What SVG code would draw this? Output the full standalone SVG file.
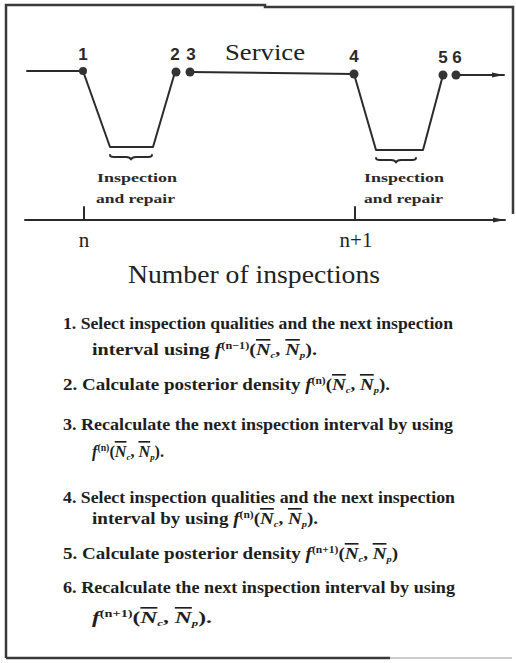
<svg xmlns="http://www.w3.org/2000/svg" width="516" height="663" viewBox="0 0 516 663">
<style>
.ln{fill:none;stroke:#2b2b2b;stroke-width:2;stroke-linecap:round;stroke-linejoin:round}
.fr{fill:none;stroke:#3a3a3a;stroke-width:2.5}
.pt{fill:#333}
.num{font-family:"Liberation Sans",Arial,sans-serif;font-size:17px;font-weight:bold;fill:#2a2a2a;text-anchor:middle}
.big{font-family:"Liberation Serif","Times New Roman",serif;fill:#222}
.ir{font-family:"Liberation Serif","Times New Roman",serif;font-size:13px;font-weight:bold;fill:#2a2a2a}
.li{font-family:"Liberation Serif","Times New Roman",serif;font-size:16.5px;font-weight:bold;fill:#1e1e1e}
.m{font-style:italic}
.ov{text-decoration:overline}
.sup{font-size:10px}
.sub{font-size:9px;font-style:italic}
</style>
<defs>
<marker id="arr" viewBox="0 0 12 6" refX="12" refY="3" markerWidth="12" markerHeight="6" markerUnits="userSpaceOnUse" orient="auto">
<path d="M0,0.5 L12,3 L0,5.5 Z" fill="#2b2b2b"/>
</marker>
</defs>
<rect width="516" height="663" fill="#ffffff"/>
<g id="frame">
<path class="fr" d="M6,658 V5 H265 V7 H513 V214"/>
<path class="fr" d="M6,658 H390"/>
<path d="M390,658 H512" stroke="#9a9a9a" stroke-width="1.2" fill="none"/>
</g>
<g id="connectors">
<path class="ln" d="M27,71 H83"/>
<path class="ln" d="M83,71 L110,147 H153 L175,72"/>
<path class="ln" d="M190,72 L354,74"/>
<path class="ln" d="M354,74 L376,150 H423 L443,75"/>
<path class="ln" d="M456,75 L504,75" marker-end="url(#arr)"/>
<path class="ln" d="M110,155 q0,2 4,2 h12 q4,0 5,2.5 q1,-2.5 5,-2.5 h12 q4,0 4,-2" stroke-width="1.6"/>
<path class="ln" d="M376,158 q0,2 4,2 h11 q4,0 5,2.5 q1,-2.5 5,-2.5 h11 q4,0 4,-2" stroke-width="1.6"/>
</g>
<g id="p1"><circle class="pt" cx="83" cy="71" r="4"/><text class="num" x="83" y="60">1</text></g>
<g id="p2"><circle class="pt" cx="176" cy="72" r="4.5"/><text class="num" x="175" y="60">2</text></g>
<g id="p3"><circle class="pt" cx="190" cy="72" r="4.5"/><text class="num" x="191" y="60">3</text></g>
<g id="p4"><circle class="pt" cx="354" cy="74" r="4.5"/><text class="num" x="354" y="62">4</text></g>
<g id="p5"><circle class="pt" cx="443" cy="75" r="4.5"/><text class="num" x="443" y="63">5</text></g>
<g id="p6"><circle class="pt" cx="456" cy="75" r="4.5"/><text class="num" x="457" y="63">6</text></g>
<g id="service-label"><text class="big" x="225" y="60" font-size="24" textLength="80" lengthAdjust="spacingAndGlyphs">Service</text></g>
<g id="repair1">
<text class="ir" x="97" y="182" textLength="80" lengthAdjust="spacingAndGlyphs">Inspection</text>
<text class="ir" x="96" y="203" textLength="79" lengthAdjust="spacingAndGlyphs">and repair</text>
</g>
<g id="repair2">
<text class="ir" x="364" y="182" textLength="80" lengthAdjust="spacingAndGlyphs">Inspection</text>
<text class="ir" x="364" y="203" textLength="79" lengthAdjust="spacingAndGlyphs">and repair</text>
</g>
<g id="axis">
<path class="ln" d="M25,220 H505" marker-end="url(#arr)"/>
<path class="ln" d="M84,207 V220"/>
<path class="ln" d="M355,207 V220"/>
<text class="big" x="84" y="247" font-size="21" text-anchor="middle">n</text>
<text class="big" x="356" y="247" font-size="21" text-anchor="middle">n+1</text>
<text class="big" x="128" y="283" font-size="26" textLength="252" lengthAdjust="spacingAndGlyphs">Number of inspections</text>
</g>
<g id="step1">
<text class="li" x="63" y="329" textLength="390" lengthAdjust="spacingAndGlyphs">1. Select inspection qualities and the next inspection</text>
<text class="li" x="92" y="355" textLength="225" lengthAdjust="spacingAndGlyphs">interval using <tspan class="m">f</tspan><tspan class="sup" dy="-6">(n−1)</tspan><tspan dy="6">(</tspan><tspan class="m ov">N</tspan><tspan class="sub" dy="3">c</tspan><tspan dy="-3">, </tspan><tspan class="m ov">N</tspan><tspan class="sub" dy="3">p</tspan><tspan dy="-3">).</tspan></text>
</g>
<g id="step2">
<text class="li" x="63" y="390" textLength="327" lengthAdjust="spacingAndGlyphs">2. Calculate posterior density <tspan class="m">f</tspan><tspan class="sup" dy="-6">(n)</tspan><tspan dy="6">(</tspan><tspan class="m ov">N</tspan><tspan class="sub" dy="3">c</tspan><tspan dy="-3">, </tspan><tspan class="m ov">N</tspan><tspan class="sub" dy="3">p</tspan><tspan dy="-3">).</tspan></text>
</g>
<g id="step3">
<text class="li" x="63" y="430" textLength="390" lengthAdjust="spacingAndGlyphs">3. Recalculate the next inspection interval by using</text>
<text class="li" x="92" y="457" textLength="72" lengthAdjust="spacingAndGlyphs"><tspan class="m">f</tspan><tspan class="sup" dy="-6">(n)</tspan><tspan dy="6">(</tspan><tspan class="m ov">N</tspan><tspan class="sub" dy="3">c</tspan><tspan dy="-3">, </tspan><tspan class="m ov">N</tspan><tspan class="sub" dy="3">p</tspan><tspan dy="-3">).</tspan></text>
</g>
<g id="step4">
<text class="li" x="63" y="503" textLength="392" lengthAdjust="spacingAndGlyphs">4. Select inspection qualities and the next inspection</text>
<text class="li" x="92" y="524" textLength="226" lengthAdjust="spacingAndGlyphs">interval by using <tspan class="m">f</tspan><tspan class="sup" dy="-6">(n)</tspan><tspan dy="6">(</tspan><tspan class="m ov">N</tspan><tspan class="sub" dy="3">c</tspan><tspan dy="-3">, </tspan><tspan class="m ov">N</tspan><tspan class="sub" dy="3">p</tspan><tspan dy="-3">).</tspan></text>
</g>
<g id="step5">
<text class="li" x="63" y="559" textLength="335" lengthAdjust="spacingAndGlyphs">5. Calculate posterior density <tspan class="m">f</tspan><tspan class="sup" dy="-6">(n+1)</tspan><tspan dy="6">(</tspan><tspan class="m ov">N</tspan><tspan class="sub" dy="3">c</tspan><tspan dy="-3">, </tspan><tspan class="m ov">N</tspan><tspan class="sub" dy="3">p</tspan><tspan dy="-3">)</tspan></text>
</g>
<g id="step6">
<text class="li" x="63" y="593" textLength="392" lengthAdjust="spacingAndGlyphs">6. Recalculate the next inspection interval by using</text>
<text class="li" x="92" y="623" textLength="120" lengthAdjust="spacingAndGlyphs"><tspan class="m">f</tspan><tspan class="sup" dy="-6">(n+1)</tspan><tspan dy="6">(</tspan><tspan class="m ov">N</tspan><tspan class="sub" dy="3">c</tspan><tspan dy="-3">, </tspan><tspan class="m ov">N</tspan><tspan class="sub" dy="3">p</tspan><tspan dy="-3">).</tspan></text>
</g>
</svg>
